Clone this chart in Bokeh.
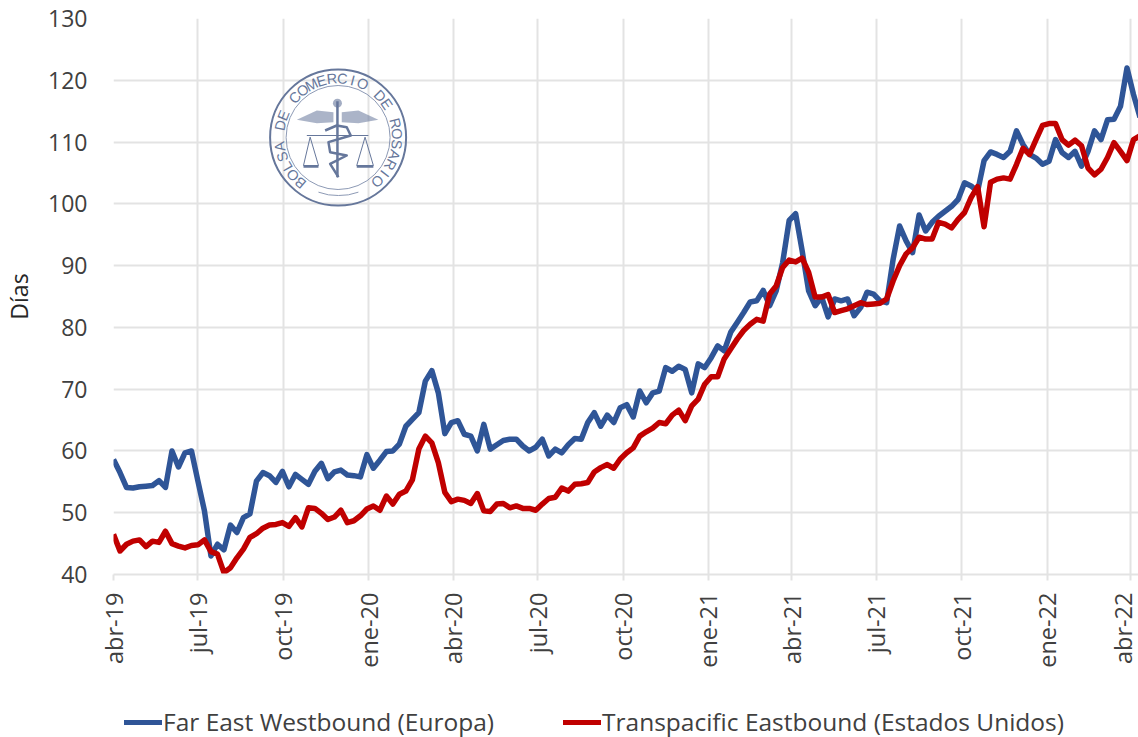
import math
import pandas as pd
from bokeh.plotting import figure
from bokeh.layouts import column
from bokeh.models import FixedTicker, Legend, LegendItem, Range1d
from bokeh.core.properties import value
from bokeh.embed import file_html
from bokeh.resources import INLINE

start_date = "2019-04-01"
n_weeks = 159

far_east = [58.6,56.5,54.1,54.0,54.2,54.3,54.4,55.2,54.1,60.0,57.4,59.7,60.0,55.1,50.3,43.0,44.9,44.0,48.0,46.8,
            49.2,49.8,55.1,56.5,56.0,54.9,56.7,54.2,56.2,55.4,54.6,56.7,58.0,55.5,56.6,56.9,56.1,56.0,55.8,59.4,
            57.2,58.5,59.9,60.0,61.1,64.0,65.1,66.2,71.3,73.0,69.4,62.8,64.6,64.9,62.7,62.4,60.0,64.3,60.3,61.0,
            61.7,61.9,61.9,60.8,60.0,60.6,61.9,59.2,60.3,59.7,61.0,62.0,61.9,64.6,66.2,64.0,65.8,64.6,67.0,67.5,
            65.5,69.7,67.8,69.4,69.7,73.5,72.9,73.7,73.2,69.4,74.1,73.5,75.1,77.0,76.2,79.2,80.8,82.4,84.1,84.3,
            86.0,83.5,85.9,90.5,97.3,98.4,92.4,85.9,83.5,84.9,81.7,84.6,84.3,84.6,81.9,83.2,85.7,85.4,84.3,84.0,
            91.0,96.4,94.0,92.1,98.2,95.6,97.0,98.0,98.8,99.6,100.7,103.4,102.9,102.0,107.0,108.4,108.0,107.5,108.5,111.8,
            109.6,108.0,107.4,106.4,106.9,110.4,108.3,107.5,108.5,106.1,108.5,111.8,110.4,113.6,113.7,115.8,122.0,117.7,114.0]
transpacific = [46.5,43.8,44.9,45.4,45.6,44.5,45.4,45.2,47.0,45.0,44.6,44.3,44.7,44.8,45.6,43.7,43.3,40.3,41.1,42.7,
                44.1,46.0,46.6,47.5,48.0,48.1,48.4,47.8,49.2,47.7,50.8,50.7,49.9,48.9,49.3,50.4,48.4,48.7,49.5,50.6,
                51.1,50.4,52.7,51.4,53.0,53.5,55.3,60.3,62.4,61.3,58.1,53.3,51.8,52.2,52.0,51.5,53.1,50.3,50.2,51.4,
                51.5,50.8,51.1,50.7,50.7,50.4,51.4,52.3,52.5,54.0,53.5,54.6,54.7,54.9,56.6,57.3,57.8,57.2,58.7,59.7,
                60.5,62.4,63.1,63.7,64.6,64.4,65.8,66.6,64.9,67.3,68.4,70.8,72.0,72.0,74.9,76.5,78.1,79.5,80.5,81.3,
                81.0,85.4,86.7,89.7,90.9,90.6,91.2,88.9,84.9,84.9,85.3,82.4,82.7,83.0,83.5,84.0,83.7,83.8,83.9,84.6,
                87.5,90.0,91.9,92.9,94.6,94.3,94.3,97.0,96.7,96.1,97.5,98.6,101.0,102.8,96.3,103.5,104.0,104.2,104.0,106.4,
                109.0,108.0,110.4,112.7,113.0,113.0,110.4,109.5,110.3,109.4,105.8,104.7,105.6,107.5,109.9,108.5,107.0,110.4,111.0]
tick_dates = ["2019-04-01","2019-07-01","2019-10-01","2020-01-01","2020-04-01","2020-07-01","2020-10-01",
              "2021-01-01","2021-04-01","2021-07-01","2021-10-01","2022-01-01","2022-04-01"]
tick_labels = ["abr-19","jul-19","oct-19","ene-20","abr-20","jul-20","oct-20","ene-21","abr-21","jul-21","oct-21","ene-22","abr-22"]
y_ticks = [40,50,60,70,80,90,100,110,120,130]
series_names = ["Far East Westbound (Europa)", "Transpacific Eastbound (Estados Unidos)"]

FONT = "Open Sans"
TXT = "#404040"
BLUE = "#2F5597"
RED = "#C00000"
GRID = "#e3e3e3"
LOGO = "#66779b"

def ms(d):
    return pd.Timestamp(d).value / 1e6

dates = pd.date_range(start_date, periods=n_weeks, freq="7D")
x0 = ms(start_date)
day = 86400000.0

p = figure(width=1138, height=698, x_axis_type="datetime", output_backend="svg", toolbar_location=None,
           x_range=Range1d(x0, x0 + 1104.4 * day), y_range=Range1d(40, 130),
           min_border_left=108, min_border_right=0, min_border_top=18, min_border_bottom=124)
p.outline_line_color = None
p.background_fill_color = "white"

tick_ms = [ms(d) for d in tick_dates]
p.xaxis.ticker = FixedTicker(ticks=tick_ms)
p.xaxis.major_label_overrides = {t: l for t, l in zip(tick_ms, tick_labels)}
p.xaxis.major_label_orientation = math.pi / 2
p.xaxis.major_label_text_font = FONT
p.xaxis.major_label_text_font_size = "23.5px"
p.xaxis.major_label_text_color = TXT
p.xaxis.major_label_standoff = 12
p.xaxis.axis_line_color = GRID
p.xaxis.axis_line_width = 2
p.xaxis.major_tick_line_color = GRID
p.xaxis.major_tick_line_width = 2
p.xaxis.major_tick_out = 6
p.xaxis.major_tick_in = 0
p.xaxis.minor_tick_line_color = None

p.yaxis.ticker = FixedTicker(ticks=y_ticks)
p.yaxis.axis_line_color = None
p.yaxis.major_tick_line_color = None
p.yaxis.major_tick_out = 0
p.yaxis.major_tick_in = 0
p.yaxis.minor_tick_line_color = None
p.yaxis.major_label_text_font = FONT
p.yaxis.major_label_text_font_size = "23px"
p.yaxis.major_label_text_color = TXT
p.yaxis.major_label_standoff = 26
p.yaxis.axis_label = "Días"
p.yaxis.axis_label_text_font = FONT
p.yaxis.axis_label_text_font_style = "normal"
p.yaxis.axis_label_text_font_size = "23px"
p.yaxis.axis_label_text_color = "#262626"
p.yaxis.axis_label_standoff = 10

p.grid.grid_line_color = GRID
p.grid.grid_line_width = 2
p.xgrid.ticker = FixedTicker(ticks=tick_ms)
p.ygrid.ticker = FixedTicker(ticks=y_ticks)

# ---- seal (decoration), positioned in page pixels, converted through the frame's scale
PX_PER_DAY = (1132 - 113) / 1096.0
def X(px):
    return x0 + (px - 113) / PX_PER_DAY * day
def Y(py):
    return 130 - (py - 18) / (574 - 18) * 90
def ZX(z):
    return X(250 + z / 3)
def ZY(z):
    return Y(80 + z / 3)
cx, cy = 338, 137
p.scatter([X(cx)], [Y(cy)], size=136, marker="circle", fill_color=None, line_color=LOGO, line_width=2)
p.scatter([X(cx)], [Y(cy)], size=104, marker="circle", fill_color=None, line_color="#8d9ab5", line_width=1)

seal_text = "BOLSA DE COMERCIO DE ROSARIO"
a0, a1 = -140, 138
for i, ch in enumerate(seal_text):
    th = math.radians(a0 + (a1 - a0) * i / (len(seal_text) - 1))
    p.text([X(cx + 59 * math.sin(th))], [Y(cy - 59 * math.cos(th))], text=[ch], angle=[-th],
           text_font=value("Liberation Sans"), text_font_size="14.5px", text_color=LOGO,
           text_align="center", text_baseline="middle")

def zline(pts, w=1.5, c=LOGO):
    p.line([ZX(a) for a, b in pts], [ZY(b) for a, b in pts], line_color=c, line_width=w, line_join="round")
def zpoly(pts, c=LOGO, a=0.75):
    p.patch([ZX(u) for u, v in pts], [ZY(v) for u, v in pts], fill_color=c, fill_alpha=a, line_color=None)

zpoly([(250,95),(200,90),(140,118),(200,128),(250,125)], a=0.55)
zpoly([(275,95),(325,90),(385,118),(325,128),(275,125)], a=0.55)
zline([(170,165),(355,165)], 1.2)
zline([(262,62),(262,290)], 2.5)
p.scatter([ZX(262)], [ZY(68)], size=9, marker="circle", fill_color=LOGO, fill_alpha=0.6, line_color=None)
zline([(225,150),(260,135),(290,140),(302,165),(235,185),(240,215),(290,225),(240,250),(265,290)], 2.5)
for a, l, r in [(180,160,205),(345,320,370)]:
    zline([(a,170),(l,255),(r,255),(a,170)], 1.0)
    zline([(l,258),(r,258)], 2.5)
zline([(205,335),(235,343),(265,345),(295,343),(325,335)], 1.0, "#8d9ab5")

# ---- series
p.line(dates, far_east, line_color=BLUE, line_width=5.5, line_join="round")
p.line(dates, transpacific, line_color=RED, line_width=5.5, line_join="round")

# ---- legend strip, a figure of its own under the chart
lg = figure(width=1138, height=39, output_backend="svg", toolbar_location=None,
            x_range=Range1d(0, 1), y_range=Range1d(0, 1),
            min_border_left=0, min_border_right=0, min_border_top=0, min_border_bottom=0)
lg.axis.visible = False
lg.grid.visible = False
lg.outline_line_color = None
k1 = lg.line([-2, -1], [-2, -1], line_color=BLUE, line_width=5, line_cap="round")
k2 = lg.line([-2, -1], [-2, -1], line_color=RED, line_width=5, line_cap="round")
legend = Legend(items=[LegendItem(label=series_names[0], renderers=[k1]),
                       LegendItem(label=series_names[1], renderers=[k2])],
                orientation="horizontal", location=(11, -1),
                border_line_color=None, background_fill_alpha=0,
                label_text_font=FONT, label_text_font_size="24.5px", label_text_color=TXT,
                glyph_width=38, label_standoff=1, spacing=69, padding=0, margin=0)
lg.add_layout(legend, "center")

page = column(p, lg, spacing=0, styles={"margin-bottom": "-8px", "margin-right": "-8px"})
open("out.html", "w").write(file_html(page, INLINE))
